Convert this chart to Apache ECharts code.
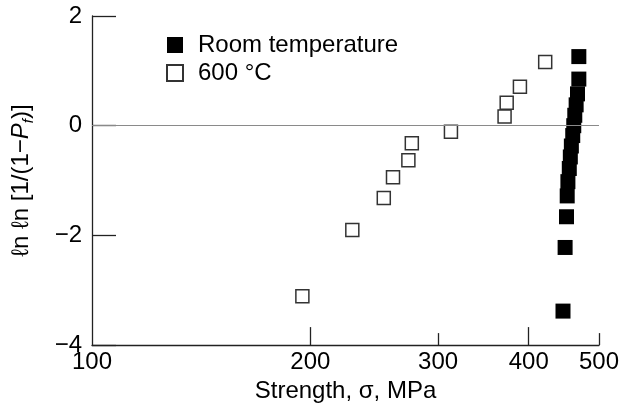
<!DOCTYPE html>
<html>
<head>
<meta charset="utf-8">
<script src="https://cdn.jsdelivr.net/npm/echarts@6/dist/echarts.min.js"></script>
<style>html,body{margin:0;padding:0;background:#fff}#c{width:623px;height:408px}</style>
</head>
<body>
<div id="c"></div>
<script>
// Room temperature (filled squares)
const roomX = [446, 449, 451, 452, 453, 455, 456.5, 458, 460, 461.5, 463, 465, 467, 469, 469];
const roomY = [-3.38, -2.22, -1.66, -1.28, -1.02, -0.78, -0.57, -0.37, -0.18, 0.0, 0.19, 0.38, 0.58, 0.85, 1.26];
// 600 °C (open squares)
const hotX = [195, 228.5, 252.5, 260, 273, 276, 312.5, 370.5, 373, 389, 421.5];
const hotY = [-3.11, -1.90, -1.32, -0.94, -0.63, -0.32, -0.11, 0.17, 0.42, 0.71, 1.16];
const xLabels = [100, 200, 300, 400, 500];
const xLongTicks = [200, 400];
const xShortTicks = [300, 500];
const seriesNames = ['Room temperature', '600 °C'];

const FONT = '"Liberation Sans", Arial, Helvetica, sans-serif';
const INK = '#000';
const chart = echarts.init(document.getElementById('c'), null, {renderer: 'canvas'});
const zip = (a, b) => a.map((v, i) => [v, b[i]]);

chart.setOption({
  animation: false,
  backgroundColor: '#fff',
  textStyle: {fontFamily: FONT},
  grid: {left: 92, right: 24, top: 16, bottom: 61},
  legend: {
    left: 166, top: 33, orient: 'vertical', padding: 0,
    itemWidth: 16, itemHeight: 16, itemGap: 4,
    textStyle: {fontFamily: FONT, fontSize: 24, color: INK, lineHeight: 24, padding: [0, 0, 0, 10]},
    data: seriesNames
  },
  xAxis: [{
    type: 'log', logBase: 10, min: 100, max: 500,
    name: 'Strength, σ, MPa', nameLocation: 'middle', nameGap: 33,
    nameTextStyle: {fontFamily: FONT, fontSize: 24, color: INK},
    axisLine: {show: true, onZero: false, lineStyle: {color: '#222', width: 1.3}},
    axisTick: {show: true, inside: true, length: 18, customValues: xLongTicks, lineStyle: {color: '#222', width: 1.3}},
    axisLabel: {show: true, customValues: xLabels, fontFamily: FONT, fontSize: 24, color: INK, margin: 5},
    splitLine: {show: false}, minorTick: {show: false}
  }, {
    type: 'log', logBase: 10, min: 100, max: 500, position: 'bottom',
    axisLine: {show: false, onZero: false},
    axisTick: {show: true, inside: true, length: 12, customValues: xShortTicks, lineStyle: {color: '#222', width: 1.3}},
    axisLabel: {show: false},
    splitLine: {show: false}
  }],
  yAxis: {
    type: 'value', min: -4, max: 2, interval: 2,
    name: '{n|ℓn ℓn [1/(1−}{i|P}{s|f}{n|)]}', nameLocation: 'middle', nameRotate: 90, nameGap: 56,
    nameTextStyle: {
      fontFamily: FONT, fontSize: 24, color: INK,
      rich: {
        n: {fontFamily: FONT, fontSize: 24, color: INK, lineHeight: 30},
        i: {fontFamily: FONT, fontSize: 24, fontStyle: 'italic', color: INK, lineHeight: 30},
        s: {fontFamily: FONT, fontSize: 15, fontStyle: 'italic', color: INK, lineHeight: 15, verticalAlign: 'bottom'}
      }
    },
    axisLine: {show: true, onZero: false, lineStyle: {color: '#222', width: 1.3}},
    axisTick: {show: true, inside: true, length: 24, lineStyle: {color: '#222', width: 1.3}},
    axisLabel: {fontFamily: FONT, fontSize: 24, color: INK, margin: 10,
      formatter: v => (v < 0 ? '−' + Math.abs(v) : String(v))},
    splitLine: {show: false}
  },
  series: [{
    type: 'scatter', data: [], silent: true, z: 1,
    markLine: {silent: true, symbol: ['none', 'none'], label: {show: false},
      lineStyle: {color: '#8a8a8a', width: 1, type: 'solid'}, data: [{yAxis: 0}]}
  }, {
    name: seriesNames[0], type: 'scatter', symbol: 'rect', symbolSize: 15, z: 3,
    itemStyle: {color: '#000', borderColor: '#000', borderWidth: 0, opacity: 1},
    data: zip(roomX, roomY)
  }, {
    name: seriesNames[1], type: 'scatter', symbol: 'rect', symbolSize: 13, z: 2,
    itemStyle: {color: '#fff', borderColor: '#333', borderWidth: 1.5, opacity: 1},
    data: zip(hotX, hotY)
  }]
});
</script>
</body>
</html>
